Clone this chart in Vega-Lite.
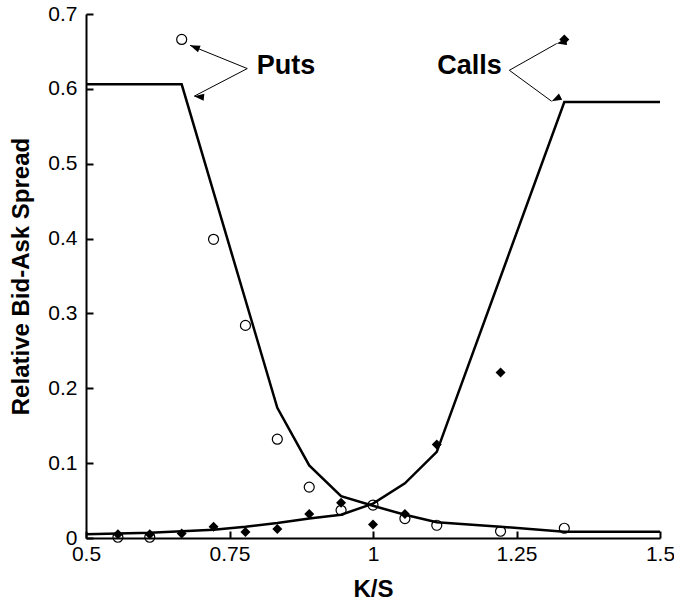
{
  "$schema": "https://vega.github.io/schema/vega-lite/v6.json",
  "width": 574,
  "height": 524,
  "autosize": {"type": "none"},
  "padding": {"left": 86, "top": 14, "right": 14, "bottom": 63},
  "background": "white",
  "config": {
    "view": {"stroke": null},
    "font": "Liberation Sans",
    "axis": {
      "grid": false,
      "domainColor": "black",
      "domainWidth": 2,
      "tickColor": "black",
      "tickWidth": 2,
      "tickSize": -7,
      "labelFont": "Liberation Sans",
      "labelFontSize": 21,
      "labelColor": "black",
      "labelOverlap": false,
      "labelBound": false,
      "labelFlush": false,
      "titleFont": "Liberation Sans",
      "titleFontSize": 24,
      "titleFontWeight": "bold",
      "titleColor": "black"
    }
  },
  "datasets": {
    "obs": [
      {"k": 0.5556, "series": "Puts", "spread": 0.001},
      {"k": 0.6111, "series": "Puts", "spread": 0.001},
      {"k": 0.6667, "series": "Puts", "spread": 0.666},
      {"k": 0.7222, "series": "Puts", "spread": 0.399},
      {"k": 0.7778, "series": "Puts", "spread": 0.284},
      {"k": 0.8333, "series": "Puts", "spread": 0.132},
      {"k": 0.8889, "series": "Puts", "spread": 0.068},
      {"k": 0.9444, "series": "Puts", "spread": 0.037},
      {"k": 1.0, "series": "Puts", "spread": 0.044},
      {"k": 1.0556, "series": "Puts", "spread": 0.026},
      {"k": 1.1111, "series": "Puts", "spread": 0.017},
      {"k": 1.2222, "series": "Puts", "spread": 0.009},
      {"k": 1.3333, "series": "Puts", "spread": 0.013},
      {"k": 0.5556, "series": "Calls", "spread": 0.005},
      {"k": 0.6111, "series": "Calls", "spread": 0.005},
      {"k": 0.6667, "series": "Calls", "spread": 0.006},
      {"k": 0.7222, "series": "Calls", "spread": 0.015},
      {"k": 0.7778, "series": "Calls", "spread": 0.008},
      {"k": 0.8333, "series": "Calls", "spread": 0.012},
      {"k": 0.8889, "series": "Calls", "spread": 0.032},
      {"k": 0.9444, "series": "Calls", "spread": 0.047},
      {"k": 1.0, "series": "Calls", "spread": 0.018},
      {"k": 1.0556, "series": "Calls", "spread": 0.032},
      {"k": 1.1111, "series": "Calls", "spread": 0.125},
      {"k": 1.2222, "series": "Calls", "spread": 0.221},
      {"k": 1.3333, "series": "Calls", "spread": 0.666}
    ],
    "model": [
      {"k": 0.5, "series": "Puts", "spread": 0.606},
      {"k": 0.6667, "series": "Puts", "spread": 0.606},
      {"k": 0.8333, "series": "Puts", "spread": 0.174},
      {"k": 0.8889, "series": "Puts", "spread": 0.097},
      {"k": 0.9444, "series": "Puts", "spread": 0.056},
      {"k": 1.0, "series": "Puts", "spread": 0.043},
      {"k": 1.0556, "series": "Puts", "spread": 0.031},
      {"k": 1.1111, "series": "Puts", "spread": 0.021},
      {"k": 1.2222, "series": "Puts", "spread": 0.015},
      {"k": 1.3333, "series": "Puts", "spread": 0.0085},
      {"k": 1.5, "series": "Puts", "spread": 0.0085},
      {"k": 0.5, "series": "Calls", "spread": 0.005},
      {"k": 0.5556, "series": "Calls", "spread": 0.006},
      {"k": 0.6111, "series": "Calls", "spread": 0.007},
      {"k": 0.6667, "series": "Calls", "spread": 0.009},
      {"k": 0.7222, "series": "Calls", "spread": 0.011},
      {"k": 0.7778, "series": "Calls", "spread": 0.015},
      {"k": 0.8333, "series": "Calls", "spread": 0.020},
      {"k": 0.8889, "series": "Calls", "spread": 0.026},
      {"k": 0.9444, "series": "Calls", "spread": 0.031},
      {"k": 1.0, "series": "Calls", "spread": 0.046},
      {"k": 1.0556, "series": "Calls", "spread": 0.073},
      {"k": 1.1111, "series": "Calls", "spread": 0.115},
      {"k": 1.3333, "series": "Calls", "spread": 0.5825},
      {"k": 1.5, "series": "Calls", "spread": 0.5825}
    ],
    "arrows": [
      {"id": "p1", "k": 0.781, "spread": 0.6271, "k2": 0.6812, "spread2": 0.6582},
      {"id": "p2", "k": 0.781, "spread": 0.6271, "k2": 0.6882, "spread2": 0.5901},
      {"id": "c1", "k": 1.2375, "spread": 0.6248, "k2": 1.32, "spread2": 0.6605},
      {"id": "c2", "k": 1.2375, "spread": 0.6248, "k2": 1.3113, "spread2": 0.5834}
    ],
    "notes": [
      {"label": "Puts", "k": 0.8484, "spread": 0.6204},
      {"label": "Calls", "k": 1.1683, "spread": 0.6204}
    ]
  },
  "encoding": {
    "x": {
      "field": "k", "type": "quantitative",
      "scale": {"domain": [0.5, 1.5], "nice": false, "zero": false},
      "axis": {"title": "K/S", "values": [0.5, 0.75, 1, 1.25, 1.5], "format": ".3~g", "labelPadding": 12, "titlePadding": 13}
    },
    "y": {
      "field": "spread", "type": "quantitative",
      "scale": {"domain": [0, 0.7], "nice": false},
      "axis": {"title": "Relative Bid-Ask Spread", "values": [0, 0.1, 0.2, 0.3, 0.4, 0.5, 0.6, 0.7], "format": ".3~g", "labelPadding": 16, "titlePadding": 14}
    }
  },
  "layer": [
    {
      "data": {"name": "model"},
      "mark": {"type": "line", "color": "black", "strokeWidth": 2.5, "strokeJoin": "miter"},
      "encoding": {"detail": {"field": "series", "type": "nominal"}}
    },
    {
      "data": {"name": "obs"},
      "transform": [{"filter": "datum.series === 'Puts'"}],
      "mark": {"type": "point", "shape": "circle", "filled": false, "stroke": "black", "strokeWidth": 1.2, "size": 100, "opacity": 1}
    },
    {
      "data": {"name": "obs"},
      "transform": [{"filter": "datum.series === 'Calls'"}],
      "mark": {"type": "point", "shape": "diamond", "filled": true, "color": "black", "size": 100, "opacity": 1}
    },
    {
      "data": {"name": "arrows"},
      "mark": {"type": "rule", "color": "black", "strokeWidth": 1},
      "encoding": {
        "x2": {"field": "k2"},
        "y2": {"field": "spread2"}
      }
    },
    {
      "data": {"name": "arrows"},
      "mark": {"type": "point", "shape": "M0,0L0.7,2L-0.7,2Z", "filled": true, "color": "black", "size": 100, "opacity": 1},
      "encoding": {
        "x": {"field": "k2", "type": "quantitative"},
        "y": {"field": "spread2", "type": "quantitative"},
        "angle": {"field": "id", "type": "nominal", "scale": {"domain": ["p1", "p2", "c1", "c2"], "range": [292, 242.5, 60.6, 126.2]}, "legend": null}
      }
    },
    {
      "data": {"name": "notes"},
      "mark": {"type": "text", "font": "Liberation Sans", "fontWeight": "bold", "fontSize": 27, "color": "black", "align": "center", "baseline": "alphabetic"},
      "encoding": {"text": {"field": "label", "type": "nominal"}}
    }
  ]
}
